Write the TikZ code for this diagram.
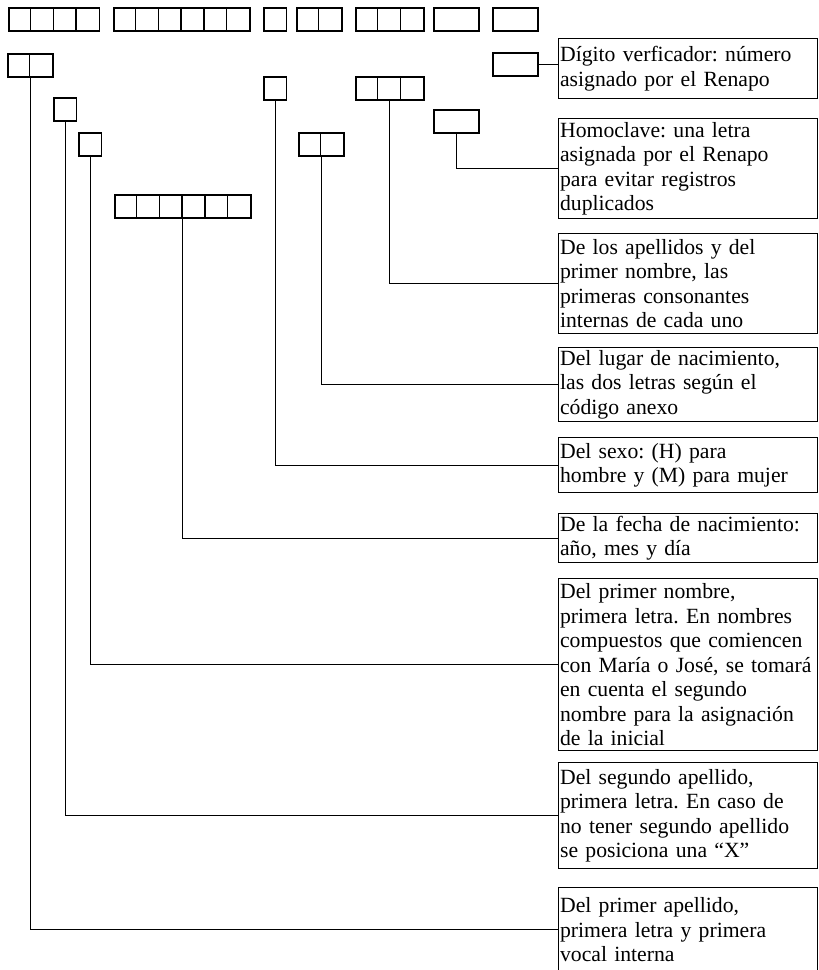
\documentclass[tikz,border=0pt]{standalone}
\usepackage{fontspec}
\setmainfont{Liberation Serif}
\usetikzlibrary{positioning}
\frenchspacing

% fila de casillas: nombre, x, y, numero de casillas
\newcommand{\casillas}[4]{%
  \node[casilla, minimum width=#4*22.7pt] (#1) at (#2,#3) {};
  \ifnum#4>1
    \foreach \k in {2,...,#4}{\draw[borde] (#2+\k*22.7-22.7,#3) -- ++(0,23);}
  \fi}

\begin{document}
\begin{tikzpicture}[x=1pt, y=-1pt,
  borde/.style={line width=1.5pt},
  casilla/.style={draw, borde, inner sep=0pt, minimum height=23pt, anchor=north west},
  ancha/.style={casilla, minimum width=45pt},
  nota/.style={draw, line width=1.2pt, anchor=north west, text width=256pt, align=left,
    inner xsep=1.5pt, inner ysep=2pt, font=\fontsize{21.7}{24.5}\selectfont},
  linea/.style={line width=1.1pt}]
\useasboundingbox (0,0) rectangle (819,970);
% la clave completa
\casillas{k1}{8}{7}{4}
\casillas{k2}{113}{7}{6}
\casillas{k3}{263}{7}{1}
\casillas{k4}{296}{7}{2}
\casillas{k5}{355}{7}{3}
\node[ancha] (k6) at (433,7) {};
\node[ancha] (k7) at (492,7) {};
% las partes
\casillas{apel1}{7}{53}{2}
\node[ancha] (digito) at (492,52) {};
\casillas{sexo}{263}{76}{1}
\casillas{cons}{355}{76}{3}
\casillas{apel2}{53}{97}{1}
\node[ancha] (homo) at (433,109) {};
\casillas{nombre}{78}{132}{1}
\casillas{lugar}{298}{132}{2}
\casillas{fecha}{114}{194}{6}
% las explicaciones
\node[nota, minimum height=60pt] (tdigito) at (558,38) {Dígito verficador: número\\asignado por el Renapo};
\node[nota, minimum height=100pt] (thomo) at (558,118) {Homoclave: una letra\\asignada por el Renapo\\para evitar registros\\duplicados};
\node[nota, minimum height=100pt] (tcons) at (558,233) {De los apellidos y del\\primer nombre, las\\primeras consonantes\\internas de cada uno};
\node[nota, minimum height=74pt] (tlugar) at (558,347) {Del lugar de nacimiento,\\las dos letras según el\\código anexo};
\node[nota, minimum height=55pt] (tsexo) at (558,437) {Del sexo: (H) para\\hombre y (M) para mujer};
\node[nota, minimum height=49pt] (tfecha) at (558,513) {De la fecha de nacimiento:\\año, mes y día};
\node[nota, minimum height=172pt] (tnombre) at (558,578) {Del primer nombre,\\primera letra. En nombres\\compuestos que comiencen\\con María o José, se tomará\\en cuenta el segundo\\nombre para la asignación\\de la inicial};
\node[nota, minimum height=106pt] (tapel2) at (558,762) {Del segundo apellido,\\primera letra. En caso de\\no tener segundo apellido\\se posiciona una “X”};
\node[nota, minimum height=84pt] (tapel1) at (558,887) {Del primer apellido,\\primera letra y primera\\vocal interna};
% conectores
\draw[linea] (digito.east) -- (digito.east -| tdigito.west);
\draw[linea] (homo.south) |- (thomo.west);
\draw[linea] (cons.south) |- (tcons.west);
\draw[linea] (lugar.south) |- (tlugar.west);
\draw[linea] (sexo.south) |- (tsexo.west);
\draw[linea] (fecha.south) |- (tfecha.west);
\draw[linea] (nombre.south) |- (tnombre.west);
\draw[linea] (apel2.south) |- (tapel2.west);
\draw[linea] (apel1.south) |- (tapel1.west);
\end{tikzpicture}
\end{document}
